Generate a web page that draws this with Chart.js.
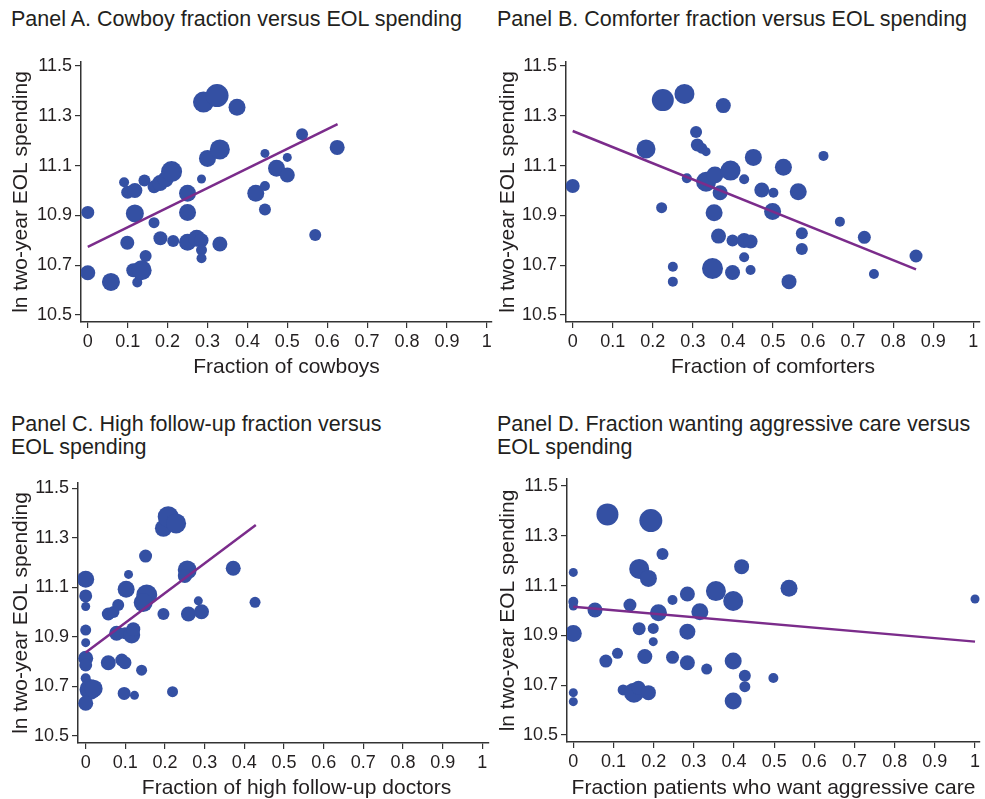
<!DOCTYPE html>
<html>
<head>
<meta charset="utf-8">
<script src="https://cdn.jsdelivr.net/npm/chart.js@4.4.1/dist/chart.umd.min.js"></script>
<style>
  body { margin: 0; background: #fff; width: 985px; height: 799px; position: relative; overflow: hidden;
         font-family: "Liberation Sans", Arial, sans-serif; }
  .ttl { position: absolute; font-size: 21.5px; line-height: 23px; color: #231f20; white-space: nowrap; }
  .box { position: absolute; }
</style>
</head>
<body>
<div class="ttl" style="left:11px;top:8px">Panel A. Cowboy fraction versus EOL spending</div>
<div class="ttl" style="left:497px;top:8px">Panel B. Comforter fraction versus EOL spending</div>
<div class="ttl" style="left:11px;top:413px">Panel C. High follow-up fraction versus<br>EOL spending</div>
<div class="ttl" style="left:497px;top:413px">Panel D. Fraction wanting aggressive care versus<br>EOL spending</div>

<div class="box" style="left:0px;top:40px"><canvas id="chartA" width="495" height="350"></canvas></div>
<div class="box" style="left:490px;top:40px"><canvas id="chartB" width="495" height="350"></canvas></div>
<div class="box" style="left:0px;top:460px"><canvas id="chartC" width="495" height="350"></canvas></div>
<div class="box" style="left:490px;top:460px"><canvas id="chartD" width="495" height="350"></canvas></div>

<script>
// shared tick values
const xTicks = [0, 0.1, 0.2, 0.3, 0.4, 0.5, 0.6, 0.7, 0.8, 0.9, 1];
const yTicks = [10.5, 10.7, 10.9, 11.1, 11.3, 11.5];
const yTitle = 'ln two-year EOL spending';

// Panel A - cowboys
const cowboyX = [0, 0, 0.058, 0.091, 0.10, 0.118, 0.099, 0.118, 0.124, 0.114, 0.135, 0.145, 0.142, 0.166, 0.166,
  0.181, 0.195, 0.21, 0.182, 0.214, 0.25, 0.25, 0.25, 0.273, 0.285, 0.285, 0.285, 0.285, 0.29, 0.324,
  0.374, 0.30, 0.331, 0.331, 0.421, 0.444, 0.444, 0.444, 0.473, 0.50, 0.50, 0.537, 0.57, 0.625];
const cowboyY = [10.912, 10.67, 10.633, 11.033, 10.993, 11.0, 10.79, 10.908, 10.631, 10.68, 10.68, 10.737, 11.04, 10.871, 11.015,
  11.03, 11.045, 11.076, 10.808, 10.797, 10.989, 10.912, 10.792, 10.808, 10.8, 10.761, 10.728, 11.046, 11.355, 11.381,
  11.334, 11.129, 11.165, 10.785, 10.989, 11.018, 11.149, 10.924, 11.089, 11.062, 11.133, 11.226, 10.821, 11.173];
const cowboyW = [6.5, 7.5, 9, 5, 6.5, 7.5, 7, 9, 5, 7, 10, 6, 6, 5.5, 6.5,
  8, 8, 10.5, 7, 6, 8.5, 8.5, 8.5, 8.5, 7, 5.5, 5, 4.5, 10.5, 11.5,
  8.5, 8.5, 10, 7.5, 8.5, 5, 4.5, 6, 8.5, 7.5, 4.5, 6, 6, 7.5];
const cowboyFitX = [0, 0.626];
const cowboyFitY = [10.774, 11.267];

// Panel B - comforters
const comfortX = [0, 0.225, 0.279, 0.376, 0.183, 0.222, 0.25, 0.25, 0.285, 0.308, 0.311, 0.322, 0.333, 0.333, 0.355,
  0.368, 0.353, 0.364, 0.349, 0.394, 0.399, 0.399, 0.428, 0.428, 0.444, 0.428, 0.444, 0.451, 0.472, 0.501,
  0.499, 0.526, 0.54, 0.563, 0.572, 0.572, 0.626, 0.667, 0.728, 0.752, 0.857];
const comfortY = [11.018, 11.363, 11.388, 11.341, 11.167, 10.931, 10.694, 10.634, 11.049, 11.235, 11.183, 11.17, 11.156, 11.035, 11.062,
  10.991, 10.911, 10.817, 10.687, 11.08, 10.799, 10.671, 11.045, 10.799, 10.795, 10.732, 10.681, 11.133, 11.002, 10.991,
  10.916, 11.093, 10.634, 10.995, 10.828, 10.765, 11.139, 10.875, 10.812, 10.665, 10.737];
const comfortW = [7, 11, 10, 7.5, 9.5, 5.5, 5, 5, 5, 6, 6.5, 5.5, 4.5, 10, 8.5,
  7.5, 8.5, 7.5, 10.5, 10, 6, 7.5, 5, 7.5, 7, 5, 5, 8.5, 7.5, 5,
  8.5, 8.5, 7.5, 8.5, 6, 6, 5, 5, 6.5, 5, 6.5];
const comfortFitX = [0, 0.857];
const comfortFitY = [11.239, 10.683];

// Panel C - high follow-up doctors
const followX = [0, 0, 0, 0, 0, 0, 0, 0, 0.011, 0, 0.02, 0.057, 0.07, 0.082, 0.057,
  0.091, 0.099, 0.078, 0.099, 0.116, 0.12, 0.102, 0.108, 0.097, 0.123, 0.141, 0.151, 0.154, 0.145, 0.196,
  0.196, 0.208, 0.228, 0.219, 0.256, 0.25, 0.259, 0.284, 0.292, 0.372, 0.427];
const followY = [11.132, 11.065, 11.022, 10.927, 10.876, 10.813, 10.786, 10.732, 10.687, 10.631, 10.69, 10.992, 11.0, 11.028, 10.795,
  10.806, 10.795, 10.914, 10.914, 10.907, 10.93, 11.092, 11.152, 10.671, 10.663, 10.765, 11.226, 11.069, 11.038, 10.992,
  11.338, 11.385, 11.358, 10.678, 11.17, 11.145, 10.992, 11.045, 11.001, 11.177, 11.039];
const followW = [8.5, 6.5, 4.5, 5.5, 4.5, 7.5, 6.5, 5, 10.5, 7.5, 9, 6.5, 6, 6, 7.5,
  6.5, 6.5, 7.5, 6, 8.5, 7, 8.5, 4.5, 6.5, 4.5, 5.5, 6.5, 10.5, 9.5, 6,
  8.5, 10.5, 10, 5.5, 9.5, 7, 7.5, 4.5, 7.5, 7.5, 5.5];
const followFitX = [0, 0.429];
const followFitY = [10.836, 11.352];

// Panel D - patients wanting aggressive care
const aggressX = [0, 0, 0, 0, 0, 0, 0.085, 0.054, 0.081, 0.11, 0.141, 0.124, 0.151, 0.162, 0.187,
  0.164, 0.178, 0.164, 0.187, 0.193, 0.199, 0.199, 0.212, 0.222, 0.247, 0.247, 0.284, 0.284, 0.284, 0.315,
  0.332, 0.355, 0.398, 0.398, 0.398, 0.419, 0.427, 0.427, 0.498, 0.537, 1.0];
const aggressY = [11.153, 11.035, 11.018, 10.908, 10.67, 10.634, 11.386, 11.002, 10.797, 10.828, 11.022, 10.681, 10.67, 10.69, 10.67,
  10.927, 10.815, 11.167, 11.129, 11.361, 10.928, 10.875, 10.991, 11.227, 11.042, 10.812, 11.066, 10.915, 10.79, 10.995,
  10.765, 11.078, 11.038, 10.797, 10.637, 11.176, 10.738, 10.694, 10.729, 11.089, 11.046];
const aggressW = [4.5, 5, 4.5, 8.5, 4.5, 4.5, 11, 7.5, 6.5, 5.5, 6.5, 5.5, 10, 7, 7.5,
  6.5, 7.5, 10, 8.5, 11.5, 5.5, 4.5, 8.5, 6, 5, 6.5, 7.5, 8, 7.5, 8.5,
  5.5, 10, 10, 8.5, 8.5, 7.5, 6, 5.5, 5, 8.5, 4.5];
const aggressFitX = [0, 1];
const aggressFitY = [11.015, 10.875];

const BUBBLE = '#3450a3';
const FIT = '#7b2c8b';
const INK = '#231f20';
const AXIS = '#333333';

function xLabel(v) {
  return v === 0 || v === 1 ? String(v) : v.toFixed(1);
}

// box / area are page pixels, used only to line the plot up with the picture
function drawPanel(id, opts) {
  const { xs, ys, ws, fitX, fitY, xTitle, xRange, yRange, box, area, yTitlePad, xTitlePad } = opts;
  const xTitleShift = opts.xTitleShift || 0;
  const yWidth = area.l - box.l;
  const xHeight = box.t + box.h - area.b;

  const bubbles = xs.map((x, i) => ({ x: x, y: ys[i], r: ws[i] }));
  const fit = fitX.map((x, i) => ({ x: x, y: fitY[i] }));

  const ctx = document.getElementById(id).getContext('2d');
  new Chart(ctx, {
    type: 'bubble',
    data: {
      datasets: [
        {
          type: 'line',
          data: fit,
          borderColor: FIT,
          borderWidth: 2.5,
          pointRadius: 0,
          fill: false,
          order: 0,
        },
        {
          data: bubbles,
          backgroundColor: BUBBLE,
          borderColor: BUBBLE,
          borderWidth: 0,
          order: 1,
        },
      ],
    },
    options: {
      responsive: false,
      animation: false,
      devicePixelRatio: 1,
      layout: {
        autoPadding: false,
        padding: { left: 0, top: area.t - box.t, right: box.l + box.w - area.r, bottom: 0 },
      },
      scales: {
        x: {
          type: 'linear',
          min: xRange[0],
          max: xRange[1],
          afterBuildTicks: (s) => { s.ticks = xTicks.map((v) => ({ value: v })); },
          afterFit: (s) => {
            s.height = xHeight;
            s.paddingLeft = 0;
            s.paddingRight = 0;
            // the title in panel C sits a little right of centre
            if (xTitleShift && !s._shifted) {
              const orig = s.drawTitle;
              s.drawTitle = function () {
                this.ctx.save();
                this.ctx.translate(xTitleShift, 0);
                orig.call(this);
                this.ctx.restore();
              };
              s._shifted = true;
            }
          },
          ticks: {
            autoSkip: false,
            maxRotation: 0,
            padding: 3,
            color: INK,
            font: { family: 'Liberation Sans', size: 18 },
            callback: (v) => xLabel(v),
          },
          grid: { drawOnChartArea: false, drawTicks: true, tickLength: 6, color: AXIS, lineWidth: 1.2 },
          border: { display: true, color: AXIS, width: 1.5 },
          title: {
            display: true,
            text: xTitle,
            color: INK,
            font: { family: 'Liberation Sans', size: 21 },
            padding: { top: 0, bottom: xTitlePad },
          },
        },
        y: {
          type: 'linear',
          min: yRange[0],
          max: yRange[1],
          afterBuildTicks: (s) => { s.ticks = yTicks.map((v) => ({ value: v })); },
          afterFit: (s) => { s.width = yWidth; s.paddingTop = 0; s.paddingBottom = 0; },
          ticks: {
            padding: 3,
            color: INK,
            font: { family: 'Liberation Sans', size: 18 },
            callback: (v) => v.toFixed(1),
          },
          grid: { drawOnChartArea: false, drawTicks: true, tickLength: 6, color: AXIS, lineWidth: 1.2 },
          border: { display: true, color: AXIS, width: 1.5 },
          title: {
            display: true,
            text: yTitle,
            color: INK,
            font: { family: 'Liberation Sans', size: 21 },
            padding: { top: yTitlePad, bottom: 0 },
          },
        },
      },
      plugins: {
        legend: { display: false },
        tooltip: { enabled: false },
      },
    },
  });
}

drawPanel('chartA', {
  xs: cowboyX, ys: cowboyY, ws: cowboyW, fitX: cowboyFitX, fitY: cowboyFitY,
  xTitle: 'Fraction of cowboys',
  xRange: [-0.017, 1.013], yRange: [10.472, 11.516],
  box: { l: 0, t: 40, w: 495, h: 350 }, area: { l: 81, t: 62, r: 492, b: 322 },
  yTitlePad: 9, xTitlePad: 10,
});

drawPanel('chartB', {
  xs: comfortX, ys: comfortY, ws: comfortW, fitX: comfortFitX, fitY: comfortFitY,
  xTitle: 'Fraction of comforters',
  xRange: [-0.0167, 1.0167], yRange: [10.472, 11.516],
  box: { l: 490, t: 40, w: 495, h: 350 }, area: { l: 566, t: 62, r: 980, b: 322 },
  yTitlePad: 6, xTitlePad: 10,
});

drawPanel('chartC', {
  xs: followX, ys: followY, ws: followW, fitX: followFitX, fitY: followFitY,
  xTitle: 'Fraction of high follow-up doctors',
  xRange: [-0.0194, 1.0169], yRange: [10.4705, 11.5214],
  box: { l: 0, t: 460, w: 495, h: 350 }, area: { l: 78, t: 483, r: 489, b: 743 },
  yTitlePad: 9, xTitlePad: 9, xTitleShift: 13,
});

drawPanel('chartD', {
  xs: aggressX, ys: aggressY, ws: aggressW, fitX: aggressFitX, fitY: aggressFitY,
  xTitle: 'Fraction patients who want aggressive care',
  xRange: [-0.0157, 1.0124], yRange: [10.4719, 11.5281],
  box: { l: 490, t: 460, w: 495, h: 350 }, area: { l: 567, t: 479, r: 980, b: 742 },
  yTitlePad: 6, xTitlePad: 9,
});
</script>
</body>
</html>
